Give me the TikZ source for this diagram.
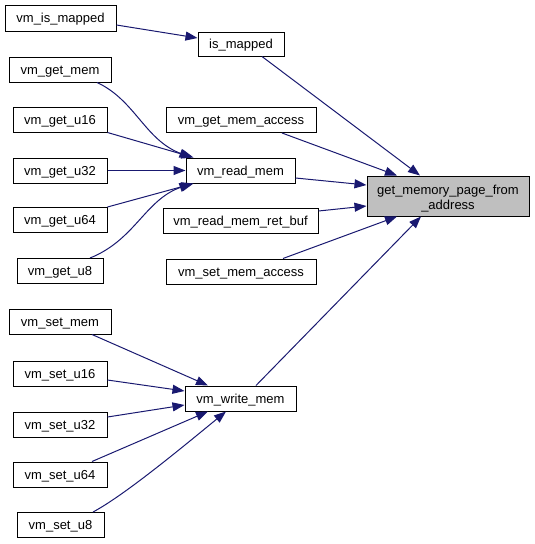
\documentclass[tikz,border=0pt]{standalone}
\usepackage{fontspec}
\setmainfont{Liberation Sans}
\usetikzlibrary{arrows.meta}
\definecolor{edgeblue}{HTML}{191970}
\definecolor{nodegray}{HTML}{BFBFBF}
\begin{document}
\begin{tikzpicture}[x=1pt,y=-1pt,
  basebox/.style={draw=black, line width=1pt, fill=white, inner sep=0pt, font=\fontsize{13}{14}\selectfont, anchor=center},
  box/.style={basebox, minimum height=25pt, text height=10.5pt, text depth=1.5pt},
  edge/.style={draw=edgeblue, line width=1pt, -{Triangle[length=12pt,width=9pt]}, edgeblue}]
\useasboundingbox (0,0) rectangle (535,544);
% nodes
\node[box, minimum width=111pt, minimum height=26pt] (vmism) at (60.5,18) {vm\_is\_mapped};
\node[box, minimum width=86pt, minimum height=24pt] (ism) at (241,44) {is\_mapped};
\node[box, minimum width=102pt] (vgm) at (60,69.5) {vm\_get\_mem};
\node[box, minimum width=94pt] (vgu16) at (60,119.5) {vm\_get\_u16};
\node[box, minimum width=94pt] (vgu32) at (60,170.5) {vm\_get\_u32};
\node[box, minimum width=94pt] (vgu64) at (60,220) {vm\_get\_u64};
\node[box, minimum width=86pt] (vgu8) at (60,271) {vm\_get\_u8};
\node[box, minimum width=150pt] (vgma) at (241,120) {vm\_get\_mem\_access};
\node[box, minimum width=109pt] (vrm) at (240.5,170.5) {vm\_read\_mem};
\node[box, minimum width=155pt] (vrmrb) at (240.5,221) {vm\_read\_mem\_ret\_buf};
\node[box, minimum width=150pt] (vsma) at (241,271.5) {vm\_set\_mem\_access};
\node[basebox, minimum width=162pt, minimum height=40pt, fill=nodegray, align=center, font=\fontsize{13}{14.5}\selectfont] (gmp) at (448,196) {\rule{0pt}{15pt}get\_memory\_page\_from\\\_address};
\node[box, minimum width=102pt] (vsm) at (60,321.5) {vm\_set\_mem};
\node[box, minimum width=94pt] (vsu16) at (60,373.5) {vm\_set\_u16};
\node[box, minimum width=94pt] (vsu32) at (60,424.5) {vm\_set\_u32};
\node[box, minimum width=94pt] (vsu64) at (60,474.5) {vm\_set\_u64};
\node[box, minimum width=87pt] (vsu8) at (60.5,525) {vm\_set\_u8};
\node[box, minimum width=111pt] (vwm) at (240.5,398.5) {vm\_write\_mem};
% edges
\draw[edge] ([yshift=-7pt]vmism.east) -- ([yshift=6pt]ism.west);
\draw[edge] ([xshift=21pt]ism.south) -- ([xshift=-28pt]gmp.north);
\draw[edge] ([xshift=41pt]vgma.south) -- ([xshift=-51pt]gmp.north);
\draw[edge] ([yshift=-7.5pt]vrm.east) -- ([yshift=11pt]gmp.west);
\draw[edge] ([yshift=10pt]vrmrb.east) -- ([yshift=-10pt]gmp.west);
\draw[edge] ([xshift=42pt]vsma.north) -- ([xshift=-51pt]gmp.south);
\draw[edge] ([xshift=15.5pt]vwm.north) -- ([xshift=-27pt]gmp.south);
\draw[edge] ([xshift=37pt]vgm.south) .. controls (135,100) and (145,140) .. ([xshift=-49pt]vrm.north);
\draw[edge] (vgu16.south east) -- ([xshift=-47pt]vrm.north);
\draw[edge] (vgu32.east) -- (vrm.west);
\draw[edge] (vgu64.north east) -- ([xshift=-47pt]vrm.south);
\draw[edge] ([xshift=30pt]vgu8.north) .. controls (135,240) and (145,200) .. ([xshift=-49pt]vrm.south);
\draw[edge] ([xshift=32pt]vsm.south) -- ([xshift=-32.5pt]vwm.north);
\draw[edge] ([yshift=-6.5pt]vsu16.east) -- ([yshift=7.5pt]vwm.west);
\draw[edge] ([yshift=7.5pt]vsu32.east) -- ([yshift=-6.5pt]vwm.west);
\draw[edge] ([xshift=32pt]vsu64.north) -- ([xshift=-32.5pt]vwm.south);
\draw[edge] ([xshift=32.5pt]vsu8.north) .. controls (125,495) and (185,445) .. ([xshift=-14.5pt]vwm.south);
\end{tikzpicture}
\end{document}
